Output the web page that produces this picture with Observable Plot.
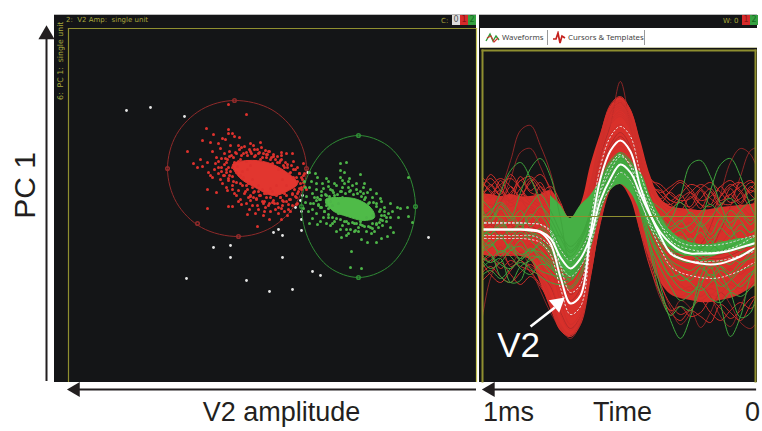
<!DOCTYPE html>
<html><head><meta charset="utf-8">
<script src="https://cdn.jsdelivr.net/npm/d3@7"></script>
<script src="https://cdn.jsdelivr.net/npm/@observablehq/plot@0.6"></script>
<style>
html,body{margin:0;padding:0;background:#fff;overflow:hidden}
#stage{position:relative;width:762px;height:431px;font-family:"Liberation Sans",Arial,sans-serif}
.panel{position:absolute;background:#141517;border-top:1px solid #bbb}
.hdr{position:absolute;color:#a8a83c;font:7px/10px "DejaVu Sans",sans-serif;white-space:pre}
.sw{position:absolute;width:8px;height:10px;font:8px/10px "DejaVu Sans",sans-serif;text-align:center}
#tabs{position:absolute;left:480px;top:28px;width:277px;height:19px;background:#fff;color:#444;font:7.8px/19px "Noto Sans",sans-serif;border-bottom:1px solid #c8c8a8}
#tabs span{position:absolute;top:0;white-space:pre}
#tabs i{position:absolute;top:2px;width:1px;height:15px;background:#999}
#tabs svg{position:absolute;top:3px}
#stage>svg,#stage>figure{position:absolute;top:0;margin:0}
</style></head><body>
<div id="stage">
  <div class="panel" style="left:54px;top:14px;width:422px;height:367px"></div>
  <div class="panel" style="left:479px;top:14px;width:278px;height:367px"></div>
  <div class="hdr" style="left:66px;top:15px">2:  V2 Amp:  single unit</div>
  <div class="hdr" style="left:56px;top:100px;font-size:7.8px;transform-origin:0 0;transform:rotate(-90deg)">6:  PC 1:  single unit</div>
  <div class="hdr" style="left:441px;top:16px">C:</div>
  <div class="sw" style="left:452px;top:15px;background:#ddd;color:#555">0</div>
  <div class="sw" style="left:460px;top:15px;background:#d62a2a;color:#8a1515">1</div>
  <div class="sw" style="left:468px;top:15px;background:#35a040;color:#146a20">2</div>
  <div class="hdr" style="left:723px;top:16px">W: 0</div>
  <div class="sw" style="left:742px;top:15px;background:#d62a2a;color:#8a1515">1</div>
  <div class="sw" style="left:750px;top:15px;background:#35a040;color:#146a20">2</div>
  <div id="tabs">
    <svg width="16" height="13" style="left:5px"><path d="M1 10L5 3L8 10L11 5L14 9" fill="none" stroke="#2f9a3a" stroke-width="1.4"/><path d="M2 7L6 5L9 11L13 7" fill="none" stroke="#d0352d" stroke-width="1.1"/></svg>
    <span style="left:22px">Waveforms</span><i style="left:67px"></i>
    <svg width="14" height="14" style="left:72px"><path d="M1 8L4 8L6 2L8 12L10 5L13 7" fill="none" stroke="#c4201c" stroke-width="1.7"/></svg>
    <span style="left:88px">Cursors &amp; Templates</span><i style="left:164px"></i>
  </div>
</div>
<script>
// Scatter: [V2 amplitude, PC 1]
const whiteUnits=[[350,271],[326,274],[292,265],[169,209],[174,186],[176,181],[181,174],[175,162],[175,170],[175,151],[198,152],[203,149],[194,146],[263,134],[246,136],[246,124],[194,124],[290,103],[230,101],[207,90],[184,92],[164,110],[156,106],[48,144]];
const redUnits=[[248,277],[230,267],[270,253],[248,252],[263,247],[274,241],[266,239],[289,230],[264,230],[258,238],[254,243],[251,242],[244,248],[237,244],[248,248],[242,245],[256,233],[246,236],[226,238],[216,239],[195,229],[283,218],[276,222],[279,214],[274,215],[269,219],[261,218],[255,223],[268,209],[258,208],[264,204],[252,206],[269,192],[260,189],[249,191],[269,173],[248,175],[244,175],[238,180],[235,177],[227,172],[229,167],[221,168],[213,166],[207,162],[219,155],[201,172],[195,162],[189,166],[188,177],[179,178],[173,218],[184,228],[190,228],[179,214],[223,184],[213,178],[204,179],[219,176],[226,181],[194,181],[184,188],[176,198],[173,206],
[258,214],[255,210],[252,217],[250,212],[249,222],[247,206],[245,226],[244,214],[243,200],[241,229],[240,209],[238,220],[237,232],[236,198],[235,226],[233,204],[232,235],[231,190],[230,229],[229,212],[228,198],[227,232],[226,186],[225,228],[224,202],[223,236],[222,190],[221,226],[220,182],[219,232],[218,196],[217,229],[216,186],[215,234],[214,192],[213,228],[212,180],[211,231],[210,188],[209,227],[208,176],[207,230],[206,184],[205,224],[204,190],[203,227],[202,178],[201,222],[200,186],[199,225],[198,174],[197,219],[196,184],[195,222],[194,176],[193,216],[192,188],[191,219],[190,180],[189,214],[188,172],[187,208],[186,182],[185,216],[184,176],[183,204],[182,192],[181,212],[180,184],[179,200],[178,190],[177,208],[175,194],[174,202],[260,224],[262,212],[266,206],[254,198],[250,194],[244,192],[240,186],[236,182],[230,178],[224,176],[218,172],[212,170],[206,170],[198,168],[192,170],[186,170],[248,203],[246,210],[242,219],[239,215],[234,210],[230,220],[226,216],[216,222],[210,224],[204,218],[198,212],[194,202],[190,196],[200,196],[206,193],[212,188],[218,190],[224,194],[230,196],[236,206],
[250,219],[248,214],[251,223],[247,225],[243,224],[240,228],[236,222],[233,228],[229,226],[226,230],[222,225],[218,228],[214,224],[210,227],[206,222],[203,225],[199,219],[196,221],[192,214],[189,217],[186,209],[183,212],[180,204],[177,208],[173,199],[175,204],[172,195],[175,192],[179,188],[177,193],[181,185],[184,187],[187,182],[190,186],[193,180],[196,184],[199,178],[203,181],[207,178],[210,184],[214,180],[217,186],[220,183],[223,189],[226,185],[229,192],[232,188],[234,196],[238,191],[240,199],[244,196],[244,205],[248,201],[250,209],[253,206],[255,214],[247,230],[235,234],[222,232],[208,230],[195,226],[183,220],[172,208],[170,192],[180,177],[195,173],[211,174],[228,184],[242,188],[256,202],[258,220],[252,228],[238,236]];
const greenUnits=[[136,218],[130,219],[136,211],[132,209],[116,207],[150,203],[148,200],[134,201],[127,203],[167,209],[161,208],[159,204],[113,194],[68,204],[109,189],[96,183],[86,178],[79,174],[76,173],[69,174],[68,165],[64,159],[78,164],[83,149],[86,154],[89,145],[95,143],[100,139],[109,139],[115,142],[105,148],[121,151],[130,146],[135,144],[125,130],[126,114],[115,113],[144,158],[159,157],[167,158],[164,163],[153,164],[173,173],[171,179],[163,178],[156,174],[159,184],[164,188],[171,194],[167,194],[153,193],[144,191],[134,194],[126,191],[113,188],
[166,178],[162,184],[158,176],[155,190],[152,170],[150,186],[148,164],[146,192],[144,176],[142,160],[140,196],[138,168],[136,190],[134,156],[132,198],[130,160],[128,194],[126,152],[124,196],[122,158],[120,192],[118,150],[116,190],[114,156],[112,182],[110,150],[108,178],[106,154],[104,184],[102,150],[100,178],[98,154],[96,172],[94,156],[92,174],[90,160],[88,168],[86,164],[84,170],[160,192],[156,182],[150,176],[146,180],[142,186],[138,178],[134,184],[128,148],[122,150],[116,160],[110,164],[104,166],[100,158],[96,162],[92,166],[170,185],[168,170],[164,172],[160,168],[156,160],[150,158],[146,156],[140,150],[136,152],[130,152],[172,200],[165,200],[160,198],[154,198],[148,195],[142,198],[136,204],[128,200],[120,198],[112,198],[106,192],[100,188],[95,180],
[157,182],[155,186],[151,187],[147,185],[143,189],[139,187],[135,190],[131,188],[127,190],[123,187],[119,188],[115,185],[111,184],[107,179],[103,179],[100,175],[97,170],[95,166],[94,161],[97,159],[100,157],[104,158],[108,155],[112,155],[116,157],[120,158],[124,159],[128,158],[132,160],[136,162],[140,163],[144,164],[148,167],[152,170],[155,174],[158,177],[160,181],[148,173],[150,179],[92,170],[90,164],[104,153],[118,154]];
// Dense cores of the two clusters, outlined
const redCore=[[244,217],[229,221],[209,219],[191,210],[179,198],[188,191],[203,186],[223,195],[237,204]];
const greenCore=[[151,182],[136,184],[119,182],[105,173],[102,164],[113,161],[129,165],[144,171]];
// Cluster gates
const redGate=[[242,281],[205,272],[180,247],[170,213],[180,179],[205,154],[238,145],[275,154],[300,179],[309,213],[300,247],[275,272]];
const greenGate=[[118,246],[89,236],[69,210],[61,175],[69,140],[89,114],[118,104],[147,114],[167,140],[175,175],[167,210],[147,236]];
const redHandles=[[242,281],[170,213],[238,145],[309,213],[279,158]];
const greenHandles=[[118,246],[61,175],[118,104],[175,175]];

// Waveform sample times (ms before 0)
const times=[1.007,.971,.934,.897,.861,.824,.788,.751,.714,.678,.641,.604,.568,.531,.495,.458,.421,.385,.348,.311,.275,.238,.201,.165,.128,.092,.055,.018,-.018];
const redMean=[-13,-13,-13,-13,-13,-14,-16,-27,-61,-87,-79,-16,38,66,76,65,29,2,-20,-37,-42,-45,-47,-48,-47,-44,-40,-34,-29];
const greenMean=[-13,-13,-13,-13,-13,-13,-15,-22,-41,-52,-42,-20,16,38,52,44,22,1,-16,-27,-34,-37,-37,-37,-36,-34,-31,-28,-25];
const redSdUp=[-6,-6,-6,-6,-6,-7,-8,-16,-50,-76,-68,-4,50,80,90,80,42,14,-8,-24,-30,-33,-35,-36,-35,-32,-28,-22,-17];
const redSdLow=[-22,-22,-22,-22,-22,-23,-26,-38,-72,-98,-90,-28,26,52,62,50,16,-10,-32,-50,-56,-59,-61,-62,-61,-58,-54,-48,-43];
const greenSdUp=[-7,-7,-7,-7,-7,-7,-8,-14,-33,-44,-34,-12,24,46,60,52,30,9,-8,-19,-26,-29,-29,-29,-28,-26,-23,-20,-17];
const greenSdLow=[-19,-19,-19,-19,-19,-19,-22,-30,-49,-60,-50,-28,8,30,44,36,14,-7,-24,-35,-42,-45,-45,-45,-44,-42,-39,-36,-33];
const redTop=[22,22,20,22,20,20,22,26,13,-2,11,51,82,110,119,108,76,41,18,10,8,7,6,7,9,10,11,12,14];
const redBottom=[-38,-40,-40,-40,-40,-44,-66,-92,-114,-120,-109,-61,-6,26,32,18,-16,-44,-66,-78,-82,-84,-86,-86,-84,-82,-78,-72,-68];
const greenTop=[null,null,null,null,null,null,null,21,11,-2,11,21,36,52,63,50,44,20,0,-14,-22,-26,-28,-28,-26,-24,-22,-22,-20];
const greenBottom=[null,null,null,null,null,null,null,-19,-49,-61,-49,-19,8,26,32,24,5,-12,-24,-32,-38,-40,-40,-40,-38,-36,-33,-30,-28];
const redTraces=[
[8,12,6,14,5,10,2,-8,-35,-62,-50,5,62,98,108,92,55,22,2,-8,-18,-10,-22,-14,-26,-15,-8,-20,-12],
[-30,-24,-34,-22,-36,-28,-38,-52,-85,-108,-96,-38,20,52,64,55,15,-18,-42,-60,-68,-74,-66,-78,-70,-64,-72,-60,-55],
[18,6,20,10,16,4,8,-4,-24,-44,-30,18,70,104,114,100,62,30,8,-4,-10,-6,-14,-8,-16,-4,2,-6,4],
[-48,-40,-52,-44,-50,-54,-60,-80,-108,-118,-104,-54,-4,30,38,28,-10,-38,-60,-74,-80,-76,-84,-78,-82,-74,-70,-66,-60],
[-2,-12,4,-8,-14,-2,-10,-20,-44,-70,-58,-4,50,82,92,80,42,12,-10,-24,-30,-36,-28,-40,-32,-26,-34,-22,-28],
[24,20,26,16,22,18,12,2,-14,-30,-18,28,80,112,120,106,70,36,12,2,-2,4,-4,6,-6,8,10,2,14],
[-20,-32,-18,-36,-26,-40,-30,-46,-78,-100,-88,-28,30,60,70,60,22,-10,-34,-50,-58,-64,-56,-68,-60,-52,-58,-48,-44],
[12,-2,14,2,-6,8,-4,-14,-40,-56,-42,12,66,92,100,86,48,18,-4,-16,-24,-18,-32,-20,-36,-24,-14,-26,-18],
[30,18,36,22,40,26,34,10,-12,-30,-16,30,76,108,116,102,66,34,22,12,6,20,8,24,10,28,14,30,18],
[38,24,14,30,20,36,18,6,-10,-28,-12,26,72,100,110,96,60,32,18,24,14,10,26,12,30,18,34,24,36],
[16,32,22,42,28,14,30,12,-8,-34,-20,22,68,96,104,90,52,28,26,16,22,8,18,28,16,22,12,26,20],
[22,42,30,16,36,24,20,8,-18,-38,-24,20,64,94,106,94,58,26,14,8,18,24,12,4,20,32,24,10,28],
[-36,-46,-30,-50,-42,-34,-48,-66,-98,-114,-100,-46,10,40,50,42,2,-28,-52,-68,-74,-70,-80,-72,-76,-68,-76,-62,-58],
[20,30,38,30,18,12,22,30,14,-10,-4,30,72,102,112,98,62,34,24,30,36,28,16,20,30,36,26,16,22],
[34,26,16,24,36,40,30,14,-2,-20,-10,24,70,98,108,94,56,38,28,16,14,24,32,26,14,12,24,34,30],
[14,22,32,38,28,16,10,18,6,-12,0,34,78,106,116,100,64,30,14,26,34,24,12,10,20,30,34,22,12],
[28,38,26,14,20,34,42,28,4,-16,-6,28,74,104,110,92,52,26,16,12,22,32,28,18,12,22,30,36,26],
[40,32,20,16,28,38,26,10,-6,-24,-12,22,66,94,102,88,50,36,32,22,16,18,28,34,24,14,18,28,38],
[-58,-50,-60,-66,-56,-48,-62,-84,-110,-118,-102,-52,0,34,44,32,-6,-40,-68,-88,-98,-92,-84,-96,-104,-94,-86,-92,-80],
[-44,-58,-66,-54,-44,-56,-68,-90,-112,-120,-104,-58,-6,28,40,30,-12,-46,-76,-94,-90,-100,-96,-84,-92,-102,-94,-82,-78],
[-66,-56,-46,-58,-68,-60,-70,-88,-114,-120,-108,-60,-2,32,42,26,-16,-52,-78,-96,-104,-94,-100,-106,-88,-96,-104,-88,-72]
];
const redOutliers=[
[1,6,26,56,86,91,71,44,1,-46,-46,11,66,104,114,98,58,21,-4,-19,-29,-36,-39,-42,-42,-39,-34,-29,-24],
[-6,0,14,38,64,68,50,24,-14,-50,-44,8,60,92,135,90,50,16,-8,-24,-32,-38,-42,-40,-38,-34,-30,-26,-22],
[-10,-6,-14,-8,-18,-10,-16,-28,-56,-78,-66,-10,44,72,84,70,34,2,-12,-30,-36,-34,-28,-10,22,54,68,62,38],
[-16,-8,-20,-12,-10,-18,-22,-34,-60,-84,-72,-14,40,68,80,66,30,0,-18,-32,-40,-44,-38,-32,-14,10,40,66,70],
[-112,-62,-42,-38,-44,-50,-58,-70,-96,-112,-100,-48,6,40,50,40,4,-30,-66,-92,-108,-96,-70,-80,-100,-110,-90,-70,-60],
[-40,-44,-38,-48,-36,-52,-74,-96,-112,-122,-106,-56,-4,28,36,26,-14,-50,-82,-98,-84,-92,-111,-96,-76,-88,-106,-112,-100]
];
const greenTraces=[
[-10,2,24,46,54,38,14,-8,-30,-44,-34,-8,24,46,58,50,26,4,-12,-22,-30,-36,-32,-28,-34,-30,-24,-20,-18],
[-20,-14,-10,-2,24,48,58,40,-2,-44,-38,-10,22,44,56,48,24,-4,-22,-34,-40,-38,-44,-40,-36,-30,-34,-26,-20],
[-14,-18,-8,-20,-12,-16,-20,-32,-50,-54,-42,-16,20,42,54,46,20,-4,-18,-4,20,52,56,40,12,-10,-26,-30,-24],
[-24,-12,-20,-14,-22,-18,-24,-36,-52,-60,-46,-22,14,36,50,42,16,-8,-24,-34,-36,-30,-6,26,52,58,40,10,-8],
[-34,-28,-36,-30,-38,-34,-36,-46,-62,-70,-56,-28,10,32,46,40,6,-30,-70,-104,-122,-100,-60,-44,-50,-60,-50,-40,-34],
[-40,-46,-42,-66,-64,-40,-42,-50,-64,-72,-60,-30,6,30,44,36,2,-36,-78,-99,-90,-94,-70,-50,-88,-120,-100,-60,-44],
[-46,-38,-60,-66,-50,-44,-40,-48,-58,-62,-50,-24,10,34,48,40,12,-20,-42,-60,-58,-64,-50,-44,-58,-76,-101,-96,-56],
[4,-6,8,-4,6,-10,0,-14,-30,-40,-26,0,32,52,62,54,30,12,-6,-18,-14,-24,-16,-28,-12,-20,-8,-16,-4],
[-22,-30,-18,-34,-24,-36,-28,-40,-56,-64,-50,-24,12,36,50,40,14,-8,-26,-38,-44,-46,-40,-52,-44,-48,-38,-34,-30],
[-6,-18,-2,-16,-8,-22,-12,-24,-40,-48,-32,-6,26,46,58,48,24,6,-10,-22,-28,-22,-32,-24,-36,-22,-14,-24,-10],
[-34,-24,-40,-28,-44,-32,-40,-52,-58,-52,-40,-18,16,40,52,44,18,-12,-30,-44,-50,-54,-48,-60,-50,-56,-46,-42,-38],
[10,-4,12,0,-12,2,-8,-18,-20,-30,-20,4,36,56,64,56,32,14,0,-10,-4,-16,-6,-18,-2,-12,2,-8,6],
[-28,-38,-48,-52,-42,-32,-44,-56,-64,-62,-48,-22,14,38,50,42,16,-12,-32,-46,-58,-66,-74,-66,-54,-62,-70,-60,-50],
[-42,-52,-46,-34,-30,-42,-54,-58,-60,-56,-44,-20,12,34,48,40,10,-18,-38,-52,-64,-60,-52,-60,-70,-64,-54,-50,-44],
[-52,-44,-34,-40,-52,-58,-48,-50,-58,-60,-46,-26,10,32,46,38,8,-22,-44,-60,-72,-76,-66,-58,-66,-74,-66,-56,-52],
[-16,-26,-36,-26,-16,-24,-34,-44,-54,-58,-44,-18,18,40,52,44,20,-2,-20,-14,-6,4,-8,-22,-10,6,-4,-16,-8],
[-4,6,14,4,-8,-2,10,-2,-22,-36,-24,2,30,50,60,52,28,10,-2,6,14,2,-10,-2,12,18,6,-4,8],
[-36,-30,-22,-32,-42,-36,-26,-34,-50,-56,-40,-16,18,40,54,46,22,-6,-24,-30,-20,-34,-44,-34,-24,-38,-46,-36,-28],
[18,8,-4,-14,-4,12,22,6,-16,-34,-22,6,34,54,62,54,32,16,8,-2,-12,-8,4,12,2,-6,6,16,20],
[-60,-54,-62,-52,-46,-52,-60,-66,-68,-64,-50,-24,12,36,48,40,10,-30,-52,-70,-84,-78,-70,-82,-86,-76,-80,-72,-62]
];

const pts=a=>a.map(([x,y])=>({x,y}));
const traces=a=>a.flatMap((s,k)=>s.map((v,i)=>({t:times[i],v,k})));
const band=(a,b)=>times.map((t,i)=>({t,a:a[i]??NaN,b:b[i]??NaN}));
const curve=s=>s.map((v,i)=>({t:times[i],v}));
const ink="#231f20";
const olive="#8f8f30";
const stage=document.getElementById("stage");

const scatter=Plot.plot({
  width:476,height:431,marginLeft:68,marginRight:0,marginTop:28,marginBottom:50,
  style:{background:"transparent",overflow:"visible"},
  x:{domain:[408,0],axis:null},y:{domain:[0,353],axis:null},
  marks:[
    Plot.frame({anchor:"left",stroke:olive,strokeWidth:1.2}),
    Plot.frame({anchor:"top",stroke:olive,strokeWidth:1.2}),
    Plot.frame({anchor:"right",stroke:"#c4c455",strokeWidth:1.2}),
    Plot.dot(pts(whiteUnits),{x:"x",y:"y",r:1.4,fill:"#e6e6e6"}),
    Plot.line(pts(redGate),{x:"x",y:"y",curve:"catmull-rom-closed",stroke:"#8e2a2a",strokeWidth:1}),
    Plot.line(pts(greenGate),{x:"x",y:"y",curve:"catmull-rom-closed",stroke:"#2f8a35",strokeWidth:1}),
    Plot.dot(pts(redHandles),{x:"x",y:"y",r:1.8,stroke:"#8e2a2a"}),
    Plot.dot(pts(greenHandles),{x:"x",y:"y",r:1.8,stroke:"#2f8a35"}),
    Plot.line(pts(redCore),{x:"x",y:"y",curve:"catmull-rom-closed",fill:"#e2362f",stroke:"#e2362f",strokeWidth:1}),
    Plot.line(pts(greenCore),{x:"x",y:"y",curve:"catmull-rom-closed",fill:"#4fbb48",stroke:"#4fbb48",strokeWidth:1}),
    Plot.dot(pts(redUnits),{x:"x",y:"y",r:1.5,fill:"#de322d"}),
    Plot.dot(pts(greenUnits),{x:"x",y:"y",r:1.5,fill:"#4db548"}),
    // axis arrows and labels
    Plot.ruleY([-8],{x1:405,x2:0,stroke:ink,strokeWidth:2}),
    Plot.dot([[401,-8]],{x:"0",y:"1",symbol:"triangle",r:5.5,fill:ink,rotate:-90}),
    Plot.ruleX([430],{y1:0,y2:345,stroke:ink,strokeWidth:2}),
    Plot.dot([[430,347]],{x:"0",y:"1",symbol:"triangle",r:6,fill:ink}),
    Plot.text(["V2 amplitude"],{x:195,y:-31,text:d=>d,fontSize:27,fill:ink,fontFamily:"Liberation Sans"}),
    Plot.text(["PC 1"],{x:451,y:196,text:d=>d,fontSize:30,fill:ink,rotate:-90,fontFamily:"Liberation Sans"})
  ]
});
scatter.style.left="0px";
stage.appendChild(scatter);

const wave=Plot.plot({
  width:286,height:431,marginLeft:6,marginRight:7,marginTop:50,marginBottom:50,
  style:{background:"transparent",overflow:"visible"},
  x:{domain:[1,0],axis:null},y:{domain:[-165,166],axis:null},
  marks:[
    Plot.areaY(band(redTop,redBottom),{x:"t",y1:"a",y2:"b",curve:"catmull-rom",fill:"#d9302a",clip:"frame"}),
    Plot.line(traces(redOutliers),{x:"t",y:"v",z:"k",curve:"catmull-rom",stroke:"#a82a2a",strokeWidth:.8,clip:"frame"}),
    Plot.line(traces(redTraces),{x:"t",y:"v",z:"k",curve:"catmull-rom",stroke:"#d02f2a",strokeWidth:1,clip:"frame"}),
    Plot.areaY(band(greenTop,greenBottom),{x:"t",y1:"a",y2:"b",curve:"catmull-rom",fill:"#46b045",clip:"frame"}),
    Plot.line(traces(greenTraces),{x:"t",y:"v",z:"k",curve:"catmull-rom",stroke:"#3fa53d",strokeWidth:1,clip:"frame"}),
    Plot.line(curve(redSdUp),{x:"t",y:"v",curve:"catmull-rom",stroke:"#e8e8e8",strokeWidth:1,strokeDasharray:"1.5,2.5",clip:"frame"}),
    Plot.line(curve(redSdLow),{x:"t",y:"v",curve:"catmull-rom",stroke:"#e8e8e8",strokeWidth:1,strokeDasharray:"1.5,2.5",clip:"frame"}),
    Plot.line(curve(greenSdUp),{x:"t",y:"v",curve:"catmull-rom",stroke:"#d8d8d8",strokeWidth:1,strokeDasharray:"1.5,2.5",clip:"frame"}),
    Plot.line(curve(greenSdLow),{x:"t",y:"v",curve:"catmull-rom",stroke:"#d8d8d8",strokeWidth:1,strokeDasharray:"1.5,2.5",clip:"frame"}),
    Plot.line(curve(redMean),{x:"t",y:"v",curve:"catmull-rom",stroke:"#fff",strokeWidth:2,clip:"frame"}),
    Plot.line(curve(greenMean),{x:"t",y:"v",curve:"catmull-rom",stroke:"#fff",strokeWidth:2,clip:"frame"}),
    Plot.ruleY([0],{stroke:olive,strokeWidth:1}),
    Plot.frame({anchor:"left",stroke:olive,strokeWidth:2}),
    Plot.frame({anchor:"top",stroke:olive,strokeWidth:2}),
    Plot.frame({anchor:"right",stroke:olive,strokeWidth:2}),
    // V2 pointer
    Plot.link([{a:.824,b:-110,c:.735,d:-91}],{x1:"a",y1:"b",x2:"c",y2:"d",stroke:"#fff",strokeWidth:2.6}),
    Plot.dot([[.725,-87]],{x:"0",y:"1",symbol:"triangle",r:6,fill:"#fff",rotate:50}),
    Plot.text(["V2"],{x:.868,y:-129,text:d=>d,fontSize:35,fill:"#fff",fontFamily:"Liberation Sans"}),
    // axis arrow and labels
    Plot.ruleY([-173],{x1:.98,x2:-.004,stroke:ink,strokeWidth:2}),
    Plot.dot([[.971,-173]],{x:"0",y:"1",symbol:"triangle",r:5.5,fill:ink,rotate:-90}),
    Plot.text([["1ms",.905],["Time",.487],["0",.011]],{x:"1",y:-196,text:"0",fontSize:27,fill:ink,fontFamily:"Liberation Sans"})
  ]
});
wave.style.left="476px";
stage.appendChild(wave);
</script>
</body></html>
